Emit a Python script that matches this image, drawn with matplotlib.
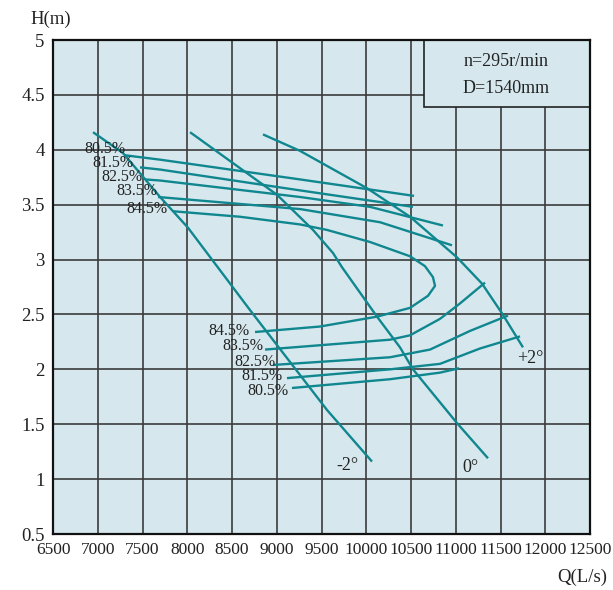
import numpy as np
import matplotlib
matplotlib.use("Agg")
import matplotlib.pyplot as plt
from matplotlib.patches import Rectangle

plt.rcParams['font.family'] = ['Liberation Serif', 'DejaVu Serif']

# === Colours ===
BG = '#d6e8ee'
LINE = '#10878f'
GRID = '#3c3c3c'

# === Blade angle head curves (Q in L/s, H in m) ===
q_m2 = [6947, 7282, 7696, 8008, 8701, 9561, 10064]
h_m2 = [4.16, 3.97, 3.57, 3.29, 2.54, 1.63, 1.16]

q_0 = [8031, 8645, 9003, 9405, 9628, 9729, 10120, 10377, 10522, 11014, 11360]
h_0 = [4.16, 3.80, 3.59, 3.27, 3.06, 2.93, 2.48, 2.20, 2.00, 1.51, 1.19]

q_p2 = [8846, 9260, 10008, 10489, 11014, 11294, 11517, 11751]
h_p2 = [4.14, 3.99, 3.65, 3.39, 3.02, 2.78, 2.51, 2.20]

# === Efficiency contours, upper branches ===
q_e805u = [7304, 7696, 9260, 10534]
h_e805u = [3.95, 3.91, 3.73, 3.58]
q_e815u = [7472, 7696, 9260, 10522]
h_e815u = [3.84, 3.82, 3.63, 3.48]
q_e825u = [7528, 7696, 9260, 10042, 10857]
h_e825u = [3.73, 3.72, 3.57, 3.48, 3.31]
q_e835u = [7673, 9260, 10154, 10958]
h_e835u = [3.57, 3.46, 3.34, 3.13]

# 84.5% closes into a loop
q_e845 = [7841, 8589, 9260, 9561, 10042, 10489, 10656, 10745, 10768,
          10690, 10489, 10120, 9483, 8757]
h_e845 = [3.44, 3.39, 3.32, 3.27, 3.16, 3.03, 2.94, 2.84, 2.76,
          2.67, 2.56, 2.48, 2.39, 2.34]

# === Efficiency contours, lower branches ===
q_e835l = [8869, 10265, 10489, 10824, 11047, 11327]
h_e835l = [2.18, 2.27, 2.31, 2.46, 2.60, 2.79]
q_e825l = [8958, 10265, 10712, 11159, 11584]
h_e825l = [2.04, 2.11, 2.18, 2.35, 2.49]
q_e815l = [9114, 10265, 10824, 11271, 11718]
h_e815l = [1.92, 2.00, 2.05, 2.19, 2.30]
q_e805l = [9170, 10265, 10824, 11037]
h_e805l = [1.83, 1.91, 1.97, 2.01]

# === Labels ===
eff_labels = ['80.5%', '81.5%', '82.5%', '83.5%', '84.5%']
upper_lbl_q = [7081, 7170, 7271, 7439, 7550]
upper_lbl_h = [4.01, 3.88, 3.75, 3.62, 3.46]
lower_lbl_q = [8902, 8835, 8757, 8623, 8466]
lower_lbl_h = [1.80, 1.94, 2.07, 2.21, 2.35]

angle_labels = ['-2°', '0°', '+2°']
angle_lbl_q = [9785, 11159, 11830]
angle_lbl_h = [1.12, 1.11, 2.10]

fig = plt.figure(figsize=(6.13, 5.90), dpi=100)
ax = fig.add_axes([0.0865, 0.0949, 0.876, 0.8373])
ax.set_facecolor(BG)

lw = 1.7
for q, h in [(q_m2, h_m2), (q_0, h_0), (q_p2, h_p2),
             (q_e805u, h_e805u), (q_e815u, h_e815u), (q_e825u, h_e825u),
             (q_e835u, h_e835u), (q_e845, h_e845),
             (q_e835l, h_e835l), (q_e825l, h_e825l),
             (q_e815l, h_e815l), (q_e805l, h_e805l)]:
    ax.plot(q, h, color=LINE, lw=lw, zorder=3, solid_capstyle='butt')

for t, x, y in zip(eff_labels, upper_lbl_q, upper_lbl_h):
    ax.text(x, y, t, fontsize=11.5, ha='center', va='center', color='#222222', zorder=4)
for t, x, y in zip(eff_labels, lower_lbl_q, lower_lbl_h):
    ax.text(x, y, t, fontsize=11.5, ha='center', va='center', color='#222222', zorder=4)
for t, x, y in zip(angle_labels, angle_lbl_q, angle_lbl_h):
    ax.text(x, y, t, fontsize=13, ha='center', va='center', color='#222222', zorder=4)

# info box in the upper right corner
ax.add_patch(Rectangle((10645, 4.39), 12500 - 10645, 5 - 4.39, facecolor=BG,
                       edgecolor='#222222', lw=1.2, zorder=2.5))
ax.text(11561, 4.80, 'n=295r/min', fontsize=13, ha='center', va='center', color='#222222', zorder=4)
ax.text(11561, 4.555, 'D=1540mm', fontsize=13, ha='center', va='center', color='#222222', zorder=4)

ax.set_xlim(6500, 12500)
ax.set_ylim(0.5, 5)
ax.set_xticks(np.arange(6500, 12501, 500))
ax.set_yticks(np.arange(0.5, 5.01, 0.5))
ax.set_yticklabels(['0.5', '1', '1.5', '2', '2.5', '3', '3.5', '4', '4.5', '5'])
ax.tick_params(length=0, labelsize=13.5, colors='#222222', pad=6)
ax.tick_params(axis='x', labelsize=12.5)
ax.grid(True, color=GRID, lw=1.2, zorder=1)
ax.set_axisbelow(True)
for s in ax.spines.values():
    s.set_color('#111111')
    s.set_linewidth(1.6)

fig.text(0.049, 0.967, 'H(m)', fontsize=13.5, ha='left', va='center', color='#222222')
fig.text(0.99, 0.022, 'Q(L/s)', fontsize=13.5, ha='right', va='center', color='#222222')

fig.savefig('out.png', dpi=100, facecolor='white')
